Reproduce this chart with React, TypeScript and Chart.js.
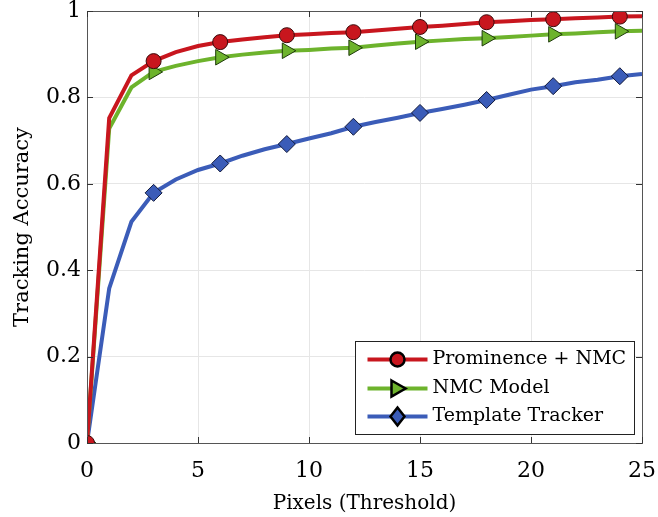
import React, { useEffect, useRef } from "react";
import { Chart, registerables } from "chart.js";

Chart.register(...registerables);

const thresholds = [0, 1, 2, 3, 4, 5, 6, 7, 8, 9, 10, 11, 12, 13, 14, 15, 16, 17, 18, 19, 20, 21, 22, 23, 24, 25];
const prominenceNMC = [0, 0.752, 0.851, 0.884, 0.905, 0.919, 0.928, 0.934, 0.939, 0.944, 0.946, 0.949, 0.951, 0.955, 0.959, 0.963, 0.966, 0.970, 0.974, 0.976, 0.979, 0.981, 0.983, 0.985, 0.987, 0.988];
const nmcModel = [0, 0.728, 0.823, 0.859, 0.873, 0.884, 0.893, 0.899, 0.904, 0.908, 0.910, 0.913, 0.915, 0.920, 0.925, 0.929, 0.932, 0.935, 0.937, 0.940, 0.943, 0.946, 0.948, 0.951, 0.953, 0.954];
const templateTracker = [0, 0.358, 0.512, 0.579, 0.610, 0.632, 0.647, 0.665, 0.680, 0.692, 0.705, 0.717, 0.732, 0.743, 0.753, 0.764, 0.773, 0.783, 0.794, 0.806, 0.818, 0.826, 0.835, 0.841, 0.849, 0.854];
const seriesLabels = ["Prominence + NMC", "NMC Model", "Template Tracker"];
const xTickValues = [0, 5, 10, 15, 20, 25];
const yTickValues = [0, 0.2, 0.4, 0.6, 0.8, 1];

const SERIF = "'DejaVu Serif', serif";

const frameAndLegend = {
  id: "frameAndLegend",
  afterDatasetsDraw(chart: any) {
    const { ctx, chartArea: a, scales } = chart;
    ctx.save();
    // frame
    ctx.strokeStyle = "#555";
    ctx.lineWidth = 1;
    ctx.strokeRect(Math.round(a.left) + 0.5, Math.round(a.top) + 0.5, Math.round(a.right - a.left), Math.round(a.bottom - a.top));
    // inward ticks
    ctx.strokeStyle = "#333";
    const tl = 6;
    ctx.beginPath();
    xTickValues.forEach((v) => {
      const x = Math.round(scales.x.getPixelForValue(v)) + 0.5;
      ctx.moveTo(x, a.bottom); ctx.lineTo(x, a.bottom - tl);
      ctx.moveTo(x, a.top); ctx.lineTo(x, a.top + tl);
    });
    yTickValues.forEach((v) => {
      const y = Math.round(scales.y.getPixelForValue(v)) + 0.5;
      ctx.moveTo(a.left, y); ctx.lineTo(a.left + tl, y);
      ctx.moveTo(a.right, y); ctx.lineTo(a.right - tl, y);
    });
    ctx.stroke();

    // legend
    const bw = 279, bh = 93;
    const bx = Math.round(a.right - 8 - bw) + 0.5;
    const by = Math.round(a.bottom - 9 - bh) + 0.5;
    ctx.fillStyle = "#fff";
    ctx.fillRect(bx, by, bw, bh);
    ctx.strokeStyle = "#222";
    ctx.lineWidth = 1;
    ctx.strokeRect(bx, by, bw, bh);
    const rows = [18, 47, 75];
    chart.data.datasets.forEach((ds: any, i: number) => {
      const cy = by + rows[i];
      ctx.strokeStyle = ds.borderColor;
      ctx.lineWidth = 4;
      ctx.beginPath();
      ctx.moveTo(bx + 12, cy);
      ctx.lineTo(bx + 72, cy);
      ctx.stroke();
      const cx = bx + 42;
      ctx.fillStyle = ds.pointBackgroundColor;
      ctx.strokeStyle = "#000";
      ctx.lineWidth = 2.5;
      ctx.beginPath();
      if (i === 0) {
        ctx.arc(cx, cy, 7, 0, Math.PI * 2);
      } else if (i === 1) {
        ctx.moveTo(cx - 6, cy - 8);
        ctx.lineTo(cx + 8, cy);
        ctx.lineTo(cx - 6, cy + 8);
        ctx.closePath();
      } else {
        ctx.moveTo(cx, cy - 9);
        ctx.lineTo(cx + 7, cy);
        ctx.lineTo(cx, cy + 9);
        ctx.lineTo(cx - 7, cy);
        ctx.closePath();
      }
      ctx.fill();
      ctx.stroke();
      ctx.fillStyle = "#000";
      ctx.font = `19px ${SERIF}`;
      ctx.textBaseline = "middle";
      ctx.textAlign = "left";
      ctx.fillText(ds.label, bx + 77, cy);
    });
    ctx.restore();
  },
};

const markerRadius = (r: number) => (c: any) => (c.dataIndex % 3 === 0 && c.dataIndex <= 24 ? r : 0);

export default function App() {
  const ref = useRef<HTMLCanvasElement | null>(null);
  useEffect(() => {
    if (!ref.current) return;
    const mk = (arr: number[]) => thresholds.map((x, i) => ({ x, y: arr[i] }));
    const chart = new Chart(ref.current, {
      type: "line",
      data: {
        datasets: [
          {
            label: seriesLabels[0],
            data: mk(prominenceNMC),
            borderColor: "#c8161e",
            backgroundColor: "#c8161e",
            pointBackgroundColor: "#c8161e",
            pointBorderColor: "#3a0a0a",
            pointBorderWidth: 1,
            pointStyle: "circle",
            pointRadius: markerRadius(7.5),
            borderWidth: 4,
            tension: 0,
          },
          {
            label: seriesLabels[1],
            data: mk(nmcModel),
            borderColor: "#6db32c",
            backgroundColor: "#6db32c",
            pointBackgroundColor: "#6db32c",
            pointBorderColor: "#1e3a0a",
            pointBorderWidth: 1,
            pointStyle: "triangle",
            pointRotation: 90,
            pointRadius: markerRadius(9),
            borderWidth: 4,
            tension: 0,
          },
          {
            label: seriesLabels[2],
            data: mk(templateTracker),
            borderColor: "#3b5cb8",
            backgroundColor: "#3b5cb8",
            pointBackgroundColor: "#3b5cb8",
            pointBorderColor: "#10183a",
            pointBorderWidth: 1,
            pointStyle: "rectRot",
            pointRadius: markerRadius(8.5),
            borderWidth: 4,
            tension: 0,
          },
        ],
      },
      options: {
        animation: false,
        responsive: false,
        layout: { padding: { top: 11, right: 16, left: 0, bottom: 0 } },
        plugins: { legend: { display: false }, tooltip: { enabled: false } },
        scales: {
          x: {
            type: "linear",
            min: 0,
            max: 25,
            afterBuildTicks: (s: any) => { s.ticks = xTickValues.map((v) => ({ value: v })); },
            afterFit: (s: any) => { s.height = 74; s.paddingLeft = 0; s.paddingRight = 0; },
            grid: { color: "#e6e6e6", lineWidth: 1, drawTicks: false },
            border: { display: false },
            ticks: { font: { family: SERIF, size: 22 }, color: "#000", padding: 15, maxRotation: 0 },
            title: { display: true, text: "Pixels (Threshold)", font: { family: SERIF, size: 20 }, color: "#000", padding: { top: 0, bottom: 1 } },
          },
          y: {
            min: 0,
            max: 1,
            afterBuildTicks: (s: any) => { s.ticks = yTickValues.map((v) => ({ value: v })); },
            afterFit: (s: any) => { s.width = 87; s.paddingTop = 0; s.paddingBottom = 0; },
            grid: { color: "#e6e6e6", lineWidth: 1, drawTicks: false },
            border: { display: false },
            ticks: { font: { family: SERIF, size: 22 }, color: "#000", padding: 6, callback: (v: any) => String(Math.round(v * 10) / 10) },
            title: { display: true, text: "Tracking Accuracy", font: { family: SERIF, size: 21 }, color: "#000", padding: { top: 10, bottom: 0 } },
          },
        },
      },
      plugins: [frameAndLegend],
    } as any);
    return () => chart.destroy();
  }, []);
  return (
    <div style={{ position: "fixed", left: 0, top: 0, width: 658, height: 517, background: "#fff" }}>
      <canvas ref={ref} width={658} height={517} style={{ width: 658, height: 517 }} />
    </div>
  );
}
